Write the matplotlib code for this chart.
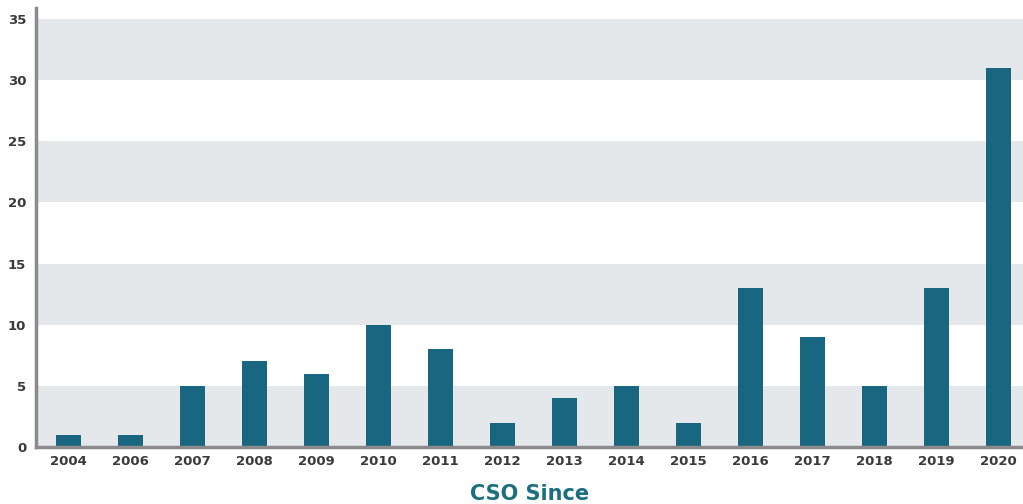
import matplotlib
matplotlib.use("Agg")
import matplotlib.pyplot as plt
import numpy as np

years = ["2004", "2006", "2007", "2008", "2009", "2010", "2011", "2012",
         "2013", "2014", "2015", "2016", "2017", "2018", "2019", "2020"]
counts = [1, 1, 5, 7, 6, 10, 8, 2, 4, 5, 2, 13, 9, 5, 13, 31]
yticks = [0, 5, 10, 15, 20, 25, 30, 35]
bands = [(0, 5), (10, 15), (20, 25), (30, 35)]

bar_color = "#18667f"
band_color = "#e5e8eb"
spine_color = "#8e8a8c"
text_color = "#3a3a3a"
title_color = "#1b6f80"

fig = plt.figure(figsize=(10.23, 5.04), dpi=100)
ax = fig.add_axes([36 / 1023, 57 / 504, 1 - 36 / 1023, (447 - 8) / 504])

x = np.arange(len(years))
for lo, hi in bands:
    ax.axhspan(lo, hi, color=band_color, zorder=0, lw=0)
ax.bar(x, counts, width=0.40, color=bar_color, zorder=2)

ax.set_xlim(-0.52, 15.39)
ax.set_ylim(0, 35.9)
ax.set_xticks(x)
ax.set_xticklabels(years)
ax.set_yticks(yticks)
ax.tick_params(axis="both", length=0, labelsize=9.5, colors=text_color)
ax.tick_params(axis="x", pad=6)
ax.tick_params(axis="y", pad=7)
for lab in ax.get_xticklabels() + ax.get_yticklabels():
    lab.set_fontweight("bold")
    lab.set_family("DejaVu Sans")

for s in ["top", "right"]:
    ax.spines[s].set_visible(False)
for s in ["left", "bottom"]:
    ax.spines[s].set_color(spine_color)
    ax.spines[s].set_linewidth(2.5)

ax.set_xlabel("CSO Since", fontsize=15, fontweight="bold", color=title_color, labelpad=11)

fig.savefig("out.png", dpi=100)
